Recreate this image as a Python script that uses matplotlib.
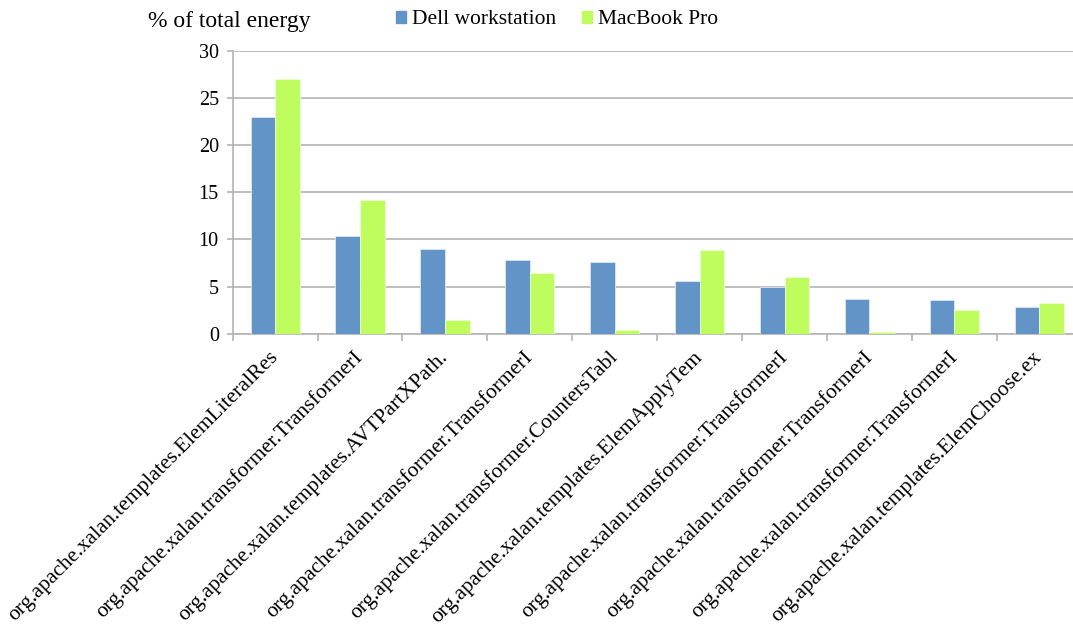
import numpy as np
import matplotlib
matplotlib.use('Agg')
import matplotlib.pyplot as plt
from matplotlib.patches import Patch

plt.rcParams['font.family'] = ['Liberation Serif', 'DejaVu Serif']

categories = [
    'org.apache.xalan.templates.ElemLiteralRes',
    'org.apache.xalan.transformer.TransformerI',
    'org.apache.xalan.templates.AVTPartXPath.',
    'org.apache.xalan.transformer.TransformerI',
    'org.apache.xalan.transformer.CountersTabl',
    'org.apache.xalan.templates.ElemApplyTem',
    'org.apache.xalan.transformer.TransformerI',
    'org.apache.xalan.transformer.TransformerI',
    'org.apache.xalan.transformer.TransformerI',
    'org.apache.xalan.templates.ElemChoose.ex',
]
dell = [23.0, 10.4, 9.0, 7.85, 7.6, 5.6, 5.0, 3.7, 3.6, 2.8]
macbook = [27.0, 14.2, 1.5, 6.45, 0.4, 8.9, 6.0, 0.2, 2.5, 3.3]
series_names = ['Dell workstation', 'MacBook Pro']
yticks = [0, 5, 10, 15, 20, 25, 30]

BLUE = '#6294C8'
GREEN = '#BFFC5E'
GRID = '#B3B3B3'
FS = 15.5

W, H = 1073, 627
fig = plt.figure(figsize=(W / 100, H / 100), dpi=100)
# plot area runs a bit past the right edge, like the original crop
ax = fig.add_axes([232.7 / W, 1 - 333.7 / H, 849 / W, 283 / H])

x = np.arange(len(categories))
bw = 0.29
ax.bar(x - bw / 2, dell, bw, color=BLUE, edgecolor='#DCE6F1', linewidth=0.6, zorder=3)
ax.bar(x + bw / 2, macbook, bw, color=GREEN, edgecolor='#EFFFD8', linewidth=0.6, zorder=3)

ax.set_xlim(-0.5, len(categories) - 0.5)
ax.set_ylim(0, 30)
ax.set_yticks(yticks)
ax.set_yticklabels([str(v) for v in yticks], fontsize=14.5)
ax.yaxis.grid(True, color=GRID, linewidth=1.2, zorder=0)
ax.set_axisbelow(True)

# category ticks sit between groups, labels at group centres
ax.set_xticks(np.arange(len(categories) + 1) - 0.5)
ax.set_xticklabels([])
ax.set_xticks(x, minor=True)
ax.set_xticklabels(categories, minor=True, rotation=45, ha='right',
                   va='center', rotation_mode='anchor', fontsize=FS)
ax.tick_params(axis='x', which='minor', length=0, pad=15)
ax.tick_params(axis='x', which='major', length=5, color=GRID, width=1.2)
ax.tick_params(axis='y', length=4, color=GRID, width=1.2, pad=6)

for s in ['top', 'right']:
    ax.spines[s].set_visible(False)
for s in ['left', 'bottom']:
    ax.spines[s].set_color(GRID)
    ax.spines[s].set_linewidth(1.2)

fig.text(148 / W, 1 - 21 / H, '% of total energy', fontsize=17, va='center')

handles = [Patch(color=BLUE), Patch(color=GREEN)]
fig.legend(handles, series_names, loc='center left',
           bbox_to_anchor=(396 / W, 1 - 20 / H), ncol=2, frameon=False,
           fontsize=FS, handlelength=0.45, handleheight=0.45,
           handletextpad=0.3, columnspacing=1.2, borderpad=0, borderaxespad=0)

fig.savefig('out.png', dpi=100)
